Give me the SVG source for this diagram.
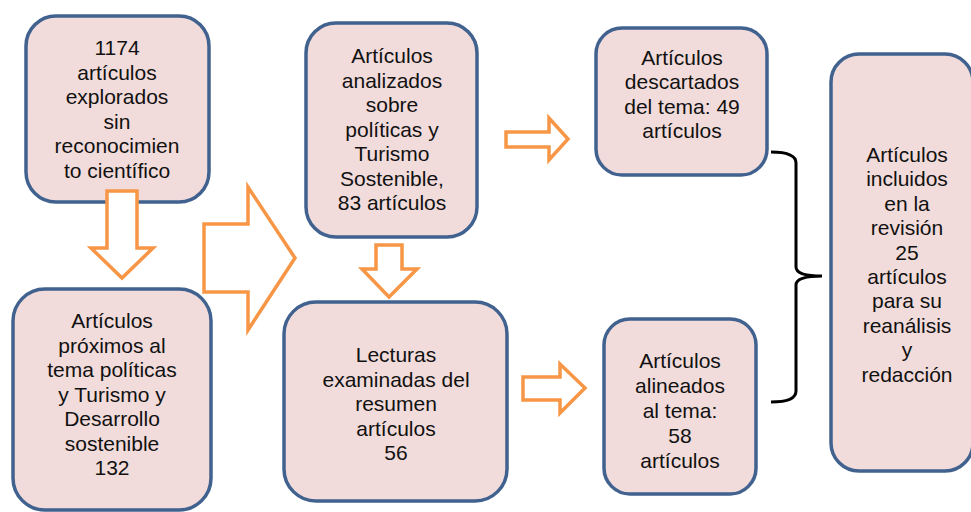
<svg xmlns="http://www.w3.org/2000/svg" width="971" height="512" viewBox="0 0 971 512">
<style>
.box{fill:#f2dcdb;stroke:#41628f;stroke-width:3.5}
.t{font-family:"Liberation Sans",Arial,sans-serif;font-size:21px;fill:#111;text-anchor:middle}
.arr{fill:#fff;stroke:#f79646;stroke-width:3.5;stroke-linejoin:miter}
.brace{fill:none;stroke:#000;stroke-width:3}
</style>
<rect width="971" height="512" fill="#fff"/>
<g id="n1">
<rect class="box" x="26" y="16" width="183" height="186" rx="30"/>
<text class="t"><tspan x="117" y="55">1174</tspan><tspan x="117" y="79.6">artículos</tspan><tspan x="117" y="104.2">explorados</tspan><tspan x="117" y="128.8">sin</tspan><tspan x="117" y="153.4">reconocimien</tspan><tspan x="117" y="178">to científico</tspan></text>
</g>
<g id="n2">
<rect class="box" x="13" y="289" width="198" height="221" rx="32"/>
<text class="t"><tspan x="112" y="328">Artículos</tspan><tspan x="112" y="352.5">próximos al</tspan><tspan x="112" y="377">tema políticas</tspan><tspan x="112" y="401.5">y Turismo y</tspan><tspan x="112" y="426">Desarrollo</tspan><tspan x="112" y="450.5">sostenible</tspan><tspan x="112" y="475">132</tspan></text>
</g>
<g id="n3">
<rect class="box" x="306" y="23" width="171" height="214" rx="30"/>
<text class="t"><tspan x="392" y="63">Artículos</tspan><tspan x="392" y="87.5">analizados</tspan><tspan x="392" y="112">sobre</tspan><tspan x="392" y="136.5">políticas y</tspan><tspan x="392" y="161">Turismo</tspan><tspan x="392" y="185.5">Sostenible,</tspan><tspan x="392" y="210">83 artículos</tspan></text>
</g>
<g id="n4">
<rect class="box" x="284" y="302" width="223" height="199" rx="32"/>
<text class="t"><tspan x="396" y="362">Lecturas</tspan><tspan x="396" y="386.5">examinadas del</tspan><tspan x="396" y="411">resumen</tspan><tspan x="396" y="435.5">artículos</tspan><tspan x="396" y="460">56</tspan></text>
</g>
<g id="n5">
<rect class="box" x="596" y="28" width="171" height="147" rx="26"/>
<text class="t"><tspan x="682" y="65">Artículos</tspan><tspan x="682" y="89.3">descartados</tspan><tspan x="682" y="113.6">del tema: 49</tspan><tspan x="682" y="138">artículos</tspan></text>
</g>
<g id="n6">
<rect class="box" x="831" y="54" width="142" height="417" rx="28"/>
<text class="t"><tspan x="907" y="162">Artículos</tspan><tspan x="907" y="186.4">incluidos</tspan><tspan x="907" y="210.8">en la</tspan><tspan x="907" y="235.2">revisión</tspan><tspan x="907" y="259.6">25</tspan><tspan x="907" y="284">artículos</tspan><tspan x="907" y="308.4">para su</tspan><tspan x="907" y="332.8">reanálisis</tspan><tspan x="907" y="357.2">y</tspan><tspan x="907" y="381.6">redacción</tspan></text>
</g>
<g id="n7">
<rect class="box" x="604" y="319" width="152" height="175" rx="26"/>
<text class="t"><tspan x="680" y="368">Artículos</tspan><tspan x="680" y="393">alineados</tspan><tspan x="680" y="418">al tema:</tspan><tspan x="680" y="443">58</tspan><tspan x="680" y="468">artículos</tspan></text>
</g>
<g id="connectors">
<polygon class="arr" points="107,191 137,191 137,248 153,248 122,278 91,248 107,248"/>
<polygon class="arr" points="204,224 248,224 248,187 295,258 248,330 248,292 204,292"/>
<polygon class="arr" points="506,132 549,132 549,118 568,139 549,160 549,147 506,147"/>
<polygon class="arr" points="376,245 402,245 402,269 417,269 389,297 362,269 376,269"/>
<polygon class="arr" points="523,377 560,377 560,364 585,388 560,413 560,400 523,400"/>
<path class="brace" d="M771,152 Q796,152 796,163 L796,267 Q796,276 822,276 Q796,276 796,285 L796,391 Q796,402 771,402"/>
</g>
</svg>
